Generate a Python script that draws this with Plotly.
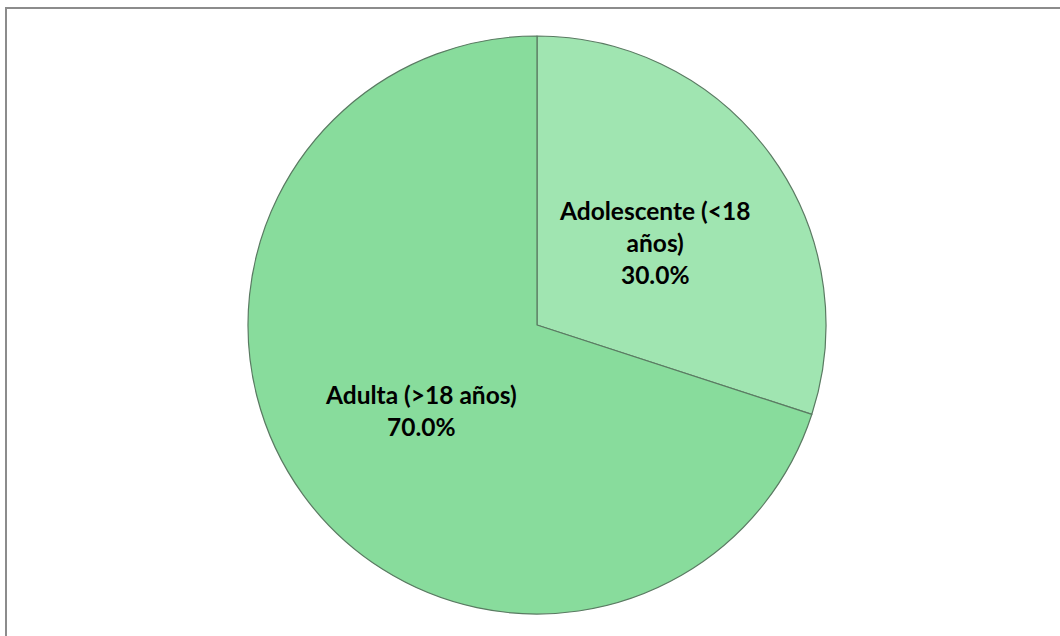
import plotly.graph_objects as go

labels = ["Adolescente (&lt;18<br>años)", "Adulta (&gt;18 años)"]
values = [30.0, 70.0]
colors = ["#A0E5B1", "#88DC9C"]

W, H = 1060, 636
cx, cy, r = 537, 325, 289
# label anchor centres (pixels), one per slice
label_px = [(654, 243), (421, 410)]

total = sum(values)
fig = go.Figure(go.Pie(
    labels=labels,
    values=values,
    sort=False,
    direction="clockwise",
    rotation=0,
    marker=dict(colors=colors, line=dict(color="#5a7a62", width=1.2)),
    textinfo="none",
    hoverinfo="label+percent",
    showlegend=False,
    domain=dict(x=[(cx - r) / W, (cx + r) / W], y=[(H - cy - r) / H, (H - cy + r) / H]),
))

annotations = []
for lab, v, (px, py) in zip(labels, values, label_px):
    annotations.append(dict(
        text=f"<b>{lab}<br>{v / total:.1%}</b>",
        x=px / W, y=(H - py) / H, xref="paper", yref="paper",
        xanchor="center", yanchor="middle", showarrow=False, align="center",
        font=dict(family="Lato", size=24.5, color="black"),
    ))

fig.update_layout(
    width=W, height=H,
    margin=dict(l=0, r=0, t=0, b=0),
    paper_bgcolor="white",
    plot_bgcolor="white",
    annotations=annotations,
    shapes=[dict(type="rect", xref="paper", yref="paper",
                 x0=6 / W, x1=1.05, y0=-0.05, y1=(H - 8) / H,
                 line=dict(color="#8c8c8c", width=2), fillcolor="rgba(0,0,0,0)")],
)

fig.write_html("out.html")
